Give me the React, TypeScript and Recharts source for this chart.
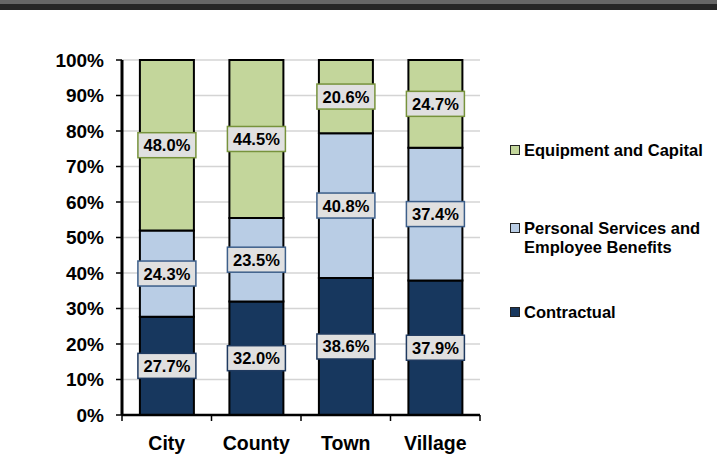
import React from 'react';
import {
  BarChart,
  Bar,
  XAxis,
  YAxis,
  CartesianGrid,
  LabelList,
} from 'recharts';

const categories = ['City', 'County', 'Town', 'Village'];
const contractual = [27.7, 32.0, 38.6, 37.9];
const personal = [24.3, 23.5, 40.8, 37.4];
const equipment = [48.0, 44.5, 20.6, 24.7];
const yTicks = [0, 10, 20, 30, 40, 50, 60, 70, 80, 90, 100];

const seriesNames = {
  equipment: 'Equipment and Capital',
  personal: ['Personal Services and', 'Employee Benefits'],
  contractual: 'Contractual',
};

const NAVY = '#17375e';
const LIGHT_BLUE = '#b9cde5';
const GREEN = '#c3d69b';
const FONT = '"Liberation Sans", Arial, sans-serif';

const data = categories.map((name, i) => ({
  name,
  contractual: contractual[i],
  personal: personal[i],
  equipment: equipment[i],
}));

const HALF_BAND = 44.75;

function makeLabel(border: string) {
  return (props: any) => {
    const { x, y, width, height, value } = props;
    const cx = x + width / 2;
    const cy = y + height / 2;
    return (
      <g>
        <rect
          x={cx - 29}
          y={cy - 12.5}
          width={58}
          height={25}
          fill="#e0e0e0"
          stroke={border}
          strokeWidth={1.5}
        />
        <text
          x={cx}
          y={cy}
          textAnchor="middle"
          dominantBaseline="central"
          fontFamily={FONT}
          fontWeight="bold"
          fontSize={16.5}
          fill="#000"
        >
          {Number(value).toFixed(1)}%
        </text>
      </g>
    );
  };
}

function CategoryTick(props: any) {
  const { x, y, payload, index } = props;
  const last = index === categories.length - 1;
  return (
    <g>
      <line x1={x - HALF_BAND} x2={x - HALF_BAND} y1={y} y2={y + 6} stroke="#000" strokeWidth={1.5} />
      {last && (
        <line x1={x + HALF_BAND} x2={x + HALF_BAND} y1={y} y2={y + 6} stroke="#000" strokeWidth={1.5} />
      )}
      <text
        x={x}
        y={y + 35}
        textAnchor="middle"
        fontFamily={FONT}
        fontWeight="bold"
        fontSize={19.5}
        fill="#000"
      >
        {payload.value}
      </text>
    </g>
  );
}

function LegendSwatch({ color, top }: { color: string; top: number }) {
  return (
    <div
      style={{
        position: 'absolute',
        left: 510,
        top: top - 5,
        width: 8,
        height: 8,
        background: color,
        border: '1.5px solid #222',
      }}
    />
  );
}

export default function App() {
  const textStyle: React.CSSProperties = {
    position: 'absolute',
    left: 524,
    fontFamily: FONT,
    fontWeight: 'bold',
    fontSize: 16.5,
    lineHeight: '19px',
    color: '#000',
    whiteSpace: 'nowrap',
  };
  return (
    <div
      style={{
        position: 'absolute',
        left: 0,
        top: 0,
        width: 717,
        height: 454,
        background: '#fff',
        overflow: 'hidden',
      }}
    >
      <div style={{ position: 'absolute', left: 0, top: 0, width: 717, height: 4, background: '#666666' }} />
      <div style={{ position: 'absolute', left: 0, top: 4, width: 717, height: 6, background: '#262626' }} />

      <BarChart
        width={717}
        height={454}
        data={data}
        margin={{ top: 60, right: 237, left: 62, bottom: 9 }}
        barCategoryGap="20%"
      >
        <CartesianGrid horizontal vertical={false} stroke="#d4d4d4" strokeWidth={1.5} />
        <XAxis
          dataKey="name"
          height={30}
          tickSize={0}
          tickMargin={0}
          tickLine={false}
          axisLine={{ stroke: '#000', strokeWidth: 2.5 }}
          tick={<CategoryTick />}
          interval={0}
        />
        <XAxis
          xAxisId="top"
          dataKey="name"
          orientation="top"
          height={0}
          tick={false}
          tickLine={false}
          axisLine={{ stroke: '#000', strokeWidth: 2 }}
        />
        <YAxis
          width={60}
          domain={[0, 100]}
          ticks={yTicks}
          tickFormatter={(v) => `${v}%`}
          tickSize={6}
          tickMargin={12}
          tickLine={{ stroke: '#000', strokeWidth: 1.5 }}
          axisLine={{ stroke: '#000', strokeWidth: 3 }}
          tick={{ fill: '#000', fontFamily: FONT, fontWeight: 'bold', fontSize: 19 }}
          interval={0}
        />
        <YAxis
          yAxisId="right"
          orientation="right"
          width={0}
          domain={[0, 100]}
          tick={false}
          tickLine={false}
          axisLine={{ stroke: '#000', strokeWidth: 2 }}
        />
        <Bar dataKey="contractual" stackId="a" fill={NAVY} stroke="#000" strokeWidth={2} isAnimationActive={false}>
          <LabelList dataKey="contractual" content={makeLabel('#1f3a60')} />
        </Bar>
        <Bar dataKey="personal" stackId="a" fill={LIGHT_BLUE} stroke="#000" strokeWidth={2} isAnimationActive={false}>
          <LabelList dataKey="personal" content={makeLabel('#3d5f8a')} />
        </Bar>
        <Bar dataKey="equipment" stackId="a" fill={GREEN} stroke="#000" strokeWidth={2} isAnimationActive={false}>
          <LabelList dataKey="equipment" content={makeLabel('#77933c')} />
        </Bar>
      </BarChart>

      <LegendSwatch color={GREEN} top={150} />
      <div style={{ ...textStyle, top: 140.5 }}>{seriesNames.equipment}</div>
      <LegendSwatch color={LIGHT_BLUE} top={228} />
      <div style={{ ...textStyle, top: 218.5 }}>
        {seriesNames.personal[0]}
        <br />
        {seriesNames.personal[1]}
      </div>
      <LegendSwatch color={NAVY} top={312} />
      <div style={{ ...textStyle, top: 302.5 }}>{seriesNames.contractual}</div>
    </div>
  );
}
